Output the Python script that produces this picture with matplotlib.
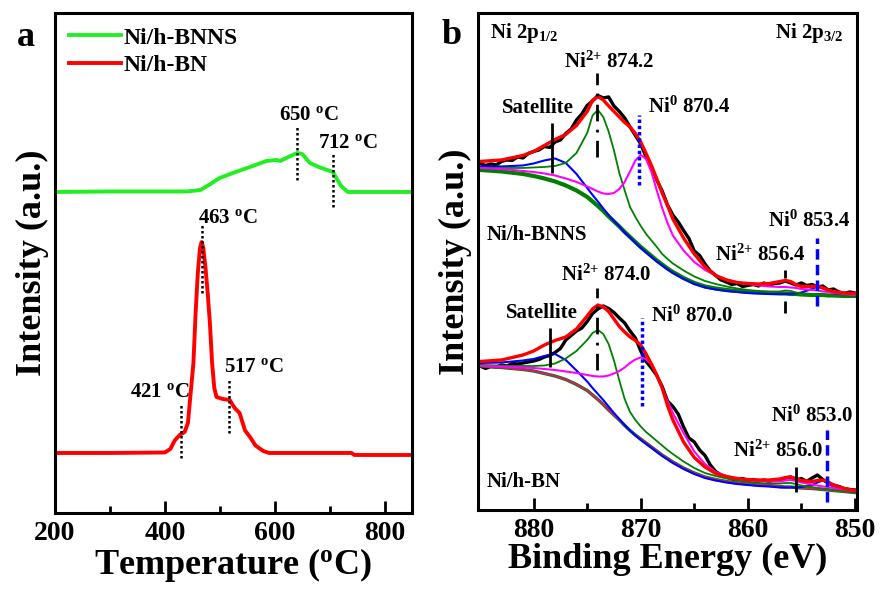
import numpy as np
import matplotlib
matplotlib.use('Agg')
from matplotlib import pyplot as plt

plt.rcParams['font.family'] = 'Liberation Serif'
plt.rcParams['font.weight'] = 'bold'
plt.rcParams['axes.labelweight'] = 'bold'
plt.rcParams['mathtext.fontset'] = 'custom'
plt.rcParams['mathtext.rm'] = 'Liberation Serif:bold'
plt.rcParams['mathtext.it'] = 'Liberation Serif:bold'
plt.rcParams['mathtext.bf'] = 'Liberation Serif:bold'
plt.rcParams['mathtext.default'] = 'rm'

# ---- panel a : H2-TPR ----
t_bnns = [200, 300, 440, 465, 480, 500, 524, 550, 585, 603, 610, 625, 641, 650,
          664, 680, 706, 720, 733, 850]
i_bnns = [64.2, 64.3, 64.3, 64.6, 65.6, 67.0, 68.0, 69.0, 70.4, 70.6, 70.4, 71.2,
          72.0, 71.8, 70.0, 69.2, 68.2, 65.5, 64.2, 64.2]

t_bn = [200, 300, 400, 410, 418, 427, 436, 442, 447, 452, 456, 460, 464, 467, 470,
        474, 478, 482, 486, 490, 494, 505, 518, 527, 536, 546, 555, 565, 579, 590,
        740, 745, 850]
i_bn = [12.0, 12.0, 12.1, 12.8, 14.5, 15.6, 16.2, 18.0, 24.0, 30.0, 40.0, 48.0,
        53.0, 54.2, 53.0, 49.0, 44.0, 38.0, 30.0, 25.0, 23.2, 22.8, 22.6, 21.0,
        20.0, 16.5, 15.2, 13.5, 12.4, 12.0, 12.0, 11.6, 11.6]

# ---- panel b : Ni 2p XPS ----
be_fit = [885, 883, 881, 880, 879, 878, 877, 876, 875, 874.5, 874, 873.5, 873,
          872.5, 872, 871.5, 871, 870.5, 870, 869.5, 869, 868.5, 868, 867.5, 867,
          866, 865, 864, 863, 862, 861, 860, 859, 858, 857, 856.5, 856, 855.5,
          855, 854, 853.5, 853, 852.5, 852, 851, 850]

bnns_bg = [68.6, 68.3, 67.8, 67.4, 66.9, 66.3, 65.5, 64.5, 63.2, 62.3, 61.4, 60.4,
           59.3, 58.3, 57.3, 56.2, 55.2, 54.2, 53.2, 52.3, 51.4, 50.5, 49.7, 48.9,
           48.2, 47.0, 46.0, 45.3, 44.9, 44.6, 44.4, 44.2, 44.1, 44.0, 43.9, 43.9,
           43.8, 43.8, 43.7, 43.6, 43.6, 43.6, 43.5, 43.5, 43.4, 43.4]
bnns_green = [69.0, 69.0, 69.0, 69.1, 69.2, 69.4, 70.0, 72.0, 76.0, 79.5, 80.6, 79.2,
              76.3, 72.5, 68.0, 64.5, 61.2, 59.2, 57.4, 55.8, 54.5, 53.2, 51.8, 50.8,
              49.9, 48.5, 47.3, 46.4, 45.8, 45.3, 44.9, 44.6, 44.4, 44.3, 44.3, 44.5,
              44.4, 44.1, 43.9, 43.7, 43.6, 43.6, 43.5, 43.5, 43.4, 43.4]
bnns_blue = [69.3, 69.3, 69.5, 69.9, 70.5, 70.9, 70.0, 67.8, 65.0, 63.6, 62.3, 60.9,
             59.6, 58.4, 57.3, 56.1, 55.1, 54.0, 53.0, 52.1, 51.2, 50.3, 49.5, 48.7,
             48.0, 46.8, 45.8, 45.1, 44.7, 44.4, 44.2, 44.0, 43.9, 43.8, 43.8, 43.8,
             43.8, 43.9, 44.1, 44.8, 45.3, 45.0, 44.4, 43.9, 43.5, 43.4]
bnns_magenta = [69.0, 68.8, 68.4, 68.2, 67.9, 67.5, 66.9, 66.2, 65.3, 64.8, 64.3, 63.9,
                63.8, 64.0, 64.8, 66.2, 68.3, 70.5, 71.6, 70.8, 68.2, 64.5, 61.0, 58.0,
                55.5, 52.5, 50.2, 48.6, 47.5, 46.7, 46.1, 45.8, 45.5, 45.3, 45.2, 45.2,
                45.1, 45.0, 44.8, 44.6, 44.5, 44.3, 44.2, 44.0, 43.8, 43.6]
bnns_env = [70.3, 70.6, 71.5, 72.3, 73.5, 74.7, 75.7, 77.5, 80.3, 82.5, 83.3, 82.6,
            81.4, 80.3, 79.2, 78.1, 77.2, 75.9, 74.2, 71.9, 69.5, 66.8, 64.0, 61.5,
            58.8, 55.0, 51.8, 49.2, 47.5, 46.6, 46.1, 45.9, 45.8, 45.9, 46.3, 46.5,
            46.3, 45.7, 45.3, 45.3, 45.4, 45.0, 44.6, 44.3, 44.0, 43.9]

bn_bg = [29.4, 29.1, 28.7, 28.4, 27.9, 27.4, 26.7, 25.7, 24.5, 23.6, 22.7, 21.7, 20.6,
         19.6, 18.6, 17.5, 16.5, 15.6, 14.8, 14.0, 13.2, 12.4, 11.6, 10.9, 10.2, 9.0,
         8.0, 7.2, 6.7, 6.3, 6.0, 5.8, 5.6, 5.5, 5.3, 5.2, 5.2, 5.1, 5.0, 4.9, 4.8,
         4.7, 4.6, 4.5, 4.3, 4.1]
bn_green = [29.6, 29.5, 29.4, 29.4, 29.5, 29.9, 30.9, 32.4, 34.6, 36.0, 36.6, 35.8,
            33.8, 30.5, 26.5, 22.8, 20.2, 18.6, 17.3, 16.2, 15.3, 14.4, 13.5, 12.6,
            11.8, 10.3, 9.0, 8.0, 7.4, 6.9, 6.5, 6.2, 6.0, 5.9, 5.9, 6.0, 6.0, 5.8,
            5.5, 5.2, 5.0, 4.9, 4.8, 4.6, 4.4, 4.2]
bn_blue = [30.0, 30.1, 30.5, 30.8, 31.4, 31.8, 30.6, 28.5, 26.3, 25.0, 23.8, 22.6,
           21.3, 20.0, 18.8, 17.6, 16.5, 15.5, 14.6, 13.8, 13.0, 12.2, 11.4, 10.7,
           10.0, 8.8, 7.8, 7.0, 6.5, 6.1, 5.8, 5.6, 5.4, 5.3, 5.1, 5.1, 5.1, 5.1,
           5.2, 5.6, 6.1, 6.5, 6.0, 5.2, 4.5, 4.2]
bn_magenta = [29.4, 29.3, 29.1, 29.0, 28.8, 28.6, 28.3, 28.0, 27.6, 27.4, 27.3, 27.3,
              27.5, 27.9, 28.4, 29.1, 30.0, 30.7, 31.1, 30.8, 29.6, 27.6, 25.0, 22.4,
              20.0, 16.0, 12.3, 9.8, 8.2, 7.4, 6.9, 6.6, 6.4, 6.3, 6.3, 6.5, 6.6, 6.4,
              6.1, 5.7, 5.5, 5.3, 5.2, 5.0, 4.7, 4.4]
bn_env = [30.3, 30.6, 31.6, 32.4, 33.6, 34.5, 35.2, 36.8, 39.4, 40.8, 41.6, 41.2,
          40.3, 38.8, 37.3, 36.2, 35.2, 34.5, 33.6, 31.8, 29.8, 27.6, 25.0, 21.5,
          18.6, 14.2, 11.1, 9.2, 7.9, 7.3, 6.9, 6.7, 6.6, 6.6, 6.8, 7.1, 7.2, 6.9,
          6.5, 6.3, 6.5, 6.6, 6.2, 5.6, 4.9, 4.5]

be_raw = [885.0, 884.5, 884.0, 883.5, 883.0, 882.5, 882.0, 881.5, 881.0, 880.5, 880.0,
          879.5, 879.0, 878.5, 878.0, 877.5, 877.0, 876.5, 876.0, 875.5, 875.0, 874.5,
          874.0, 873.5, 873.0, 872.5, 872.0, 871.5, 871.0, 870.5, 870.0, 869.5, 869.0,
          868.5, 868.0, 867.5, 867.0, 866.5, 866.0, 865.5, 865.0, 864.5, 864.0, 863.5,
          863.0, 862.5, 862.0, 861.5, 861.0, 860.5, 860.0, 859.5, 859.0, 858.5, 858.0,
          857.5, 857.0, 856.5, 856.0, 855.5, 855.0, 854.5, 854.0, 853.5, 853.0, 852.5,
          852.0, 851.5, 851.0, 850.5, 850.0]
bnns_raw = [69.9, 69.5, 69.8, 69.6, 70.3, 70.6, 70.5, 71.2, 71.0, 71.9, 72.3, 72.6,
            73.3, 73.1, 74.2, 74.6, 75.9, 76.8, 78.6, 79.8, 81.5, 82.4, 83.5, 83.0,
            83.2, 81.4, 80.3, 79.0, 77.2, 75.5, 73.8, 71.2, 69.0, 66.6, 64.4, 61.6,
            59.6, 58.2, 56.5, 54.9, 52.4, 51.5, 49.8, 48.4, 47.5, 46.6, 46.2, 45.7,
            45.9, 45.3, 45.5, 45.7, 45.4, 46.0, 45.6, 45.9, 46.0, 46.4, 46.0, 45.6,
            46.0, 45.5, 45.7, 45.2, 45.4, 44.6, 44.8, 44.2, 43.9, 44.2, 44.0]
bn_raw = [29.4, 28.9, 29.3, 29.2, 29.6, 29.4, 29.9, 29.8, 30.0, 30.2, 30.4, 30.7,
          31.2, 31.5, 32.1, 32.9, 34.6, 35.5, 36.4, 37.0, 38.3, 39.9, 40.8, 41.4,
          40.9, 40.1, 39.0, 38.0, 36.4, 35.0, 32.4, 30.3, 29.0, 27.5, 25.3, 22.4,
          21.3, 19.8, 17.2, 15.0, 14.2, 12.6, 11.5, 9.6, 8.3, 7.6, 7.2, 6.8, 6.6,
          6.9, 6.5, 6.7, 6.4, 6.6, 6.3, 6.7, 6.5, 7.0, 7.2, 6.6, 6.9, 6.3, 7.0, 7.6,
          6.7, 6.0, 5.6, 5.3, 4.9, 4.7, 4.6]

fig = plt.figure(figsize=(8.83, 5.94), dpi=100)
ax1 = fig.add_axes([0.0623, 0.1364, 0.4043, 0.8418])
ax2 = fig.add_axes([0.5413, 0.1414, 0.4293, 0.8368])

def style(ax):
    for s in ax.spines.values():
        s.set_linewidth(2.2)
    ax.tick_params(axis='x', which='major', direction='in', length=9, width=2,
                   labelsize=20, pad=6, top=False)
    ax.tick_params(axis='x', which='minor', direction='in', length=5, width=2, top=False)
    ax.set_yticks([])

# panel a
ax1.plot(t_bnns, i_bnns, color='#22ee22', lw=2.8, label='Ni/h-BNNS')
ax1.plot(t_bn, i_bn, color='#ff0000', lw=2.8, label='Ni/h-BN')
ax1.set_xlim(200, 850)
ax1.set_ylim(0, 100)
ax1.set_xticks([200, 400, 600, 800])
ax1.set_xticks([300, 500, 700], minor=True)
style(ax1)
ax1.set_xlabel('Temperature ($^{o}$C)', fontsize=26, labelpad=0)
ax1.set_ylabel('Intensity (a.u.)', fontsize=26, labelpad=4)
ax1.legend(loc='upper left', bbox_to_anchor=(0.0, 1.0), frameon=False, fontsize=17,
           handlelength=2.2, handletextpad=0.1, labelspacing=0.25, borderaxespad=0.2)

dot = dict(color='black', lw=1.8, linestyles=[(0, (1, 1))])
ax1.vlines(641, 66.6, 77.2, **dot)
ax1.vlines(706, 61.2, 72.2, **dot)
ax1.vlines(467, 44, 57.6, **dot)
ax1.vlines(429, 11, 21.6, **dot)
ax1.vlines(516, 16, 26.6, **dot)
fs = 15
ax1.text(607, 79.6, '650 $^{o}$C', fontsize=fs, va='center')
ax1.text(678, 74.0, '712 $^{o}$C', fontsize=fs, va='center')
ax1.text(460, 59.0, '463 $^{o}$C', fontsize=fs, va='center')
ax1.text(336, 24.2, '421 $^{o}$C', fontsize=fs, va='center')
ax1.text(507, 29.2, '517 $^{o}$C', fontsize=fs, va='center')

# panel b
for raw, bg, gr, bl, mg, env, lower in [(bnns_raw, bnns_bg, bnns_green, bnns_blue, bnns_magenta, bnns_env, False),
                                        (bn_raw, bn_bg, bn_green, bn_blue, bn_magenta, bn_env, True)]:
    ax2.plot(be_raw, raw, color='black', lw=2.4)
    ax2.plot(be_fit, bg, color='#008000', lw=3.0 if not lower else 2.4)
    if lower:
        ax2.plot(be_fit, bg, color='#e0157a', lw=1.3)
    ax2.plot(be_fit, bl, color='#0000ff', lw=1.5)
    ax2.plot(be_fit, gr, color='#008000', lw=1.3)
    ax2.plot(be_fit, mg, color='#ff00ff', lw=1.5)
    ax2.plot(be_fit, env, color='#ff0000', lw=2.4)

ax2.set_xlim(885.2, 849.8)
ax2.set_ylim(0.6, 100)
ax2.set_xticks([880, 870, 860, 850])
ax2.set_xticks([875, 865, 855], minor=True)
style(ax2)
ax2.set_xlabel('Binding Energy (eV)', fontsize=26, labelpad=0)
ax2.set_ylabel('Intensity (a.u.)', fontsize=26, labelpad=4)

dashdot = (0, (6, 3, 1, 3))
ax2.vlines(874.1, 71.2, 88, color='black', lw=2, linestyles=[dashdot])
ax2.vlines(874.1, 28.6, 45, color='black', lw=2, linestyles=[dashdot])
ax2.vlines(878.3, 67.9, 77.9, color='black', lw=2)
ax2.vlines(878.5, 29.1, 36.9, color='black', lw=2)
ax2.vlines(870.2, 65.6, 79.6, color='#0000ff', lw=2.5, linestyles=[(0, (1, 0.8))])
ax2.vlines(869.9, 21.4, 38.9, color='#0000ff', lw=2.5, linestyles=[(0, (1, 0.8))])
ax2.vlines([856.5, 856.5], [40, 47], [42.3, 48.6], color='black', lw=2)
ax2.vlines(855.5, 4.3, 9.3, color='black', lw=2)
ax2.vlines(853.5, 41.3, 55, color='#0000ff', lw=2.5, linestyles=[(0, (3, 1.5))])
ax2.vlines(852.6, 2.3, 16.6, color='#0000ff', lw=2.5, linestyles=[(0, (3, 1.5))])

ni2 = 'Ni$^{2{+}}$'
ni0 = 'Ni$^{0}$'
ax2.text(884.1, 96, 'Ni 2p$_{1/2}$', fontsize=fs, va='center')
ax2.text(857.5, 96, 'Ni 2p$_{3/2}$', fontsize=fs, va='center')
ax2.text(872.9, 90.2, ni2 + ' 874.2', fontsize=fs, va='center', ha='center')
ax2.text(879.6, 81.0, 'Satellite', fontsize=fs, va='center', ha='center')
ax2.text(869.3, 81.2, ni0 + ' 870.4', fontsize=fs, va='center')
ax2.text(884.4, 55.6, 'Ni/h-BNNS', fontsize=fs, va='center')
ax2.text(858.8, 51.6, ni2 + ' 856.4', fontsize=fs, va='center', ha='center')
ax2.text(854.3, 58.3, ni0 + ' 853.4', fontsize=fs, va='center', ha='center')
ax2.text(873.2, 47.6, ni2 + ' 874.0', fontsize=fs, va='center', ha='center')
ax2.text(879.2, 39.9, 'Satellite', fontsize=fs, va='center', ha='center')
ax2.text(869.0, 39.3, ni0 + ' 870.0', fontsize=fs, va='center')
ax2.text(884.4, 6.3, 'Ni/h-BN', fontsize=fs, va='center')
ax2.text(854.0, 19.3, ni0 + ' 853.0', fontsize=fs, va='center', ha='center')
ax2.text(857.2, 12.3, ni2 + ' 856.0', fontsize=fs, va='center', ha='center')

fig.text(26 / 883, 1 - 37 / 594, 'a', fontsize=26, ha='center', va='center')
fig.text(452 / 883, 1 - 35 / 594, 'b', fontsize=26, ha='center', va='center')

fig.savefig('out.png', dpi=100)
